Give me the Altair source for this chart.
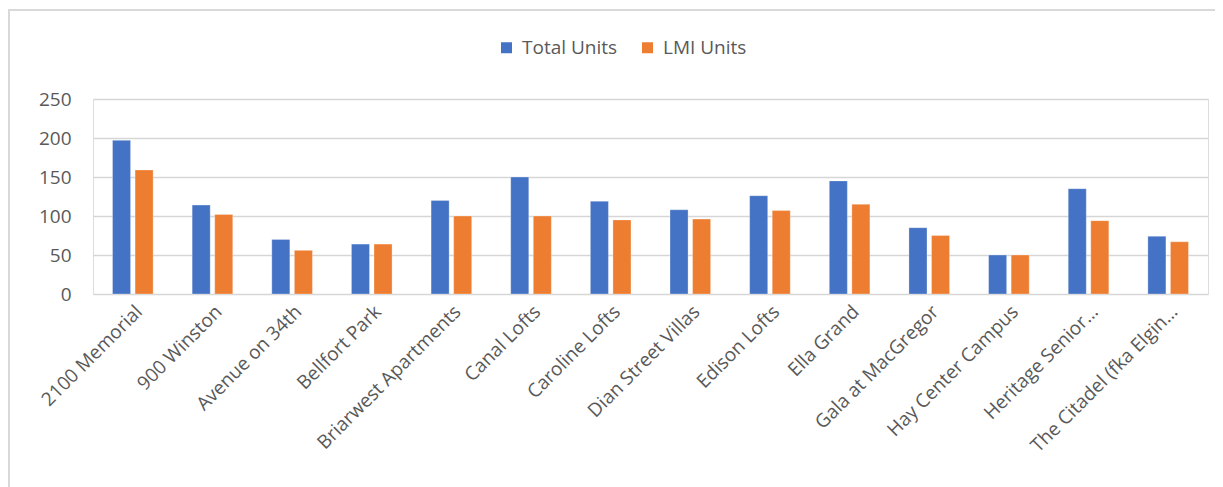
import altair as alt
import pandas as pd

categories = ["2100 Memorial", "900 Winston", "Avenue on 34th", "Bellfort Park",
              "Briarwest Apartments", "Canal Lofts", "Caroline Lofts", "Dian Street Villas",
              "Edison Lofts", "Ella Grand", "Gala at MacGregor", "Hay Center Campus",
              "Heritage Senior…", "The Citadel (fka Elgin…"]
total_units = [197, 114, 70, 64, 120, 150, 119, 108, 126, 145, 85, 50, 135, 74]
lmi_units = [159, 102, 56, 64, 100, 100, 95, 96, 107, 115, 75, 50, 94, 67]
series = ["Total Units", "LMI Units"]
colors = ["#4472C4", "#ED7D31"]
y_ticks = [0, 50, 100, 150, 200, 250]

rows = []
for c, t, l in zip(categories, total_units, lmi_units):
    rows.append({"Project": c, "Series": series[0], "Units": t})
    rows.append({"Project": c, "Series": series[1], "Units": l})
df = pd.DataFrame(rows)

FONT = "Open Sans"
LABEL = "#595959"

bars = alt.Chart(df).mark_bar(stroke="#FFFFFF", strokeOpacity=0.5, strokeWidth=0.6).encode(
    x=alt.X("Project:N", sort=categories,
            scale=alt.Scale(paddingInner=0.49, paddingOuter=0.245),
            axis=alt.Axis(title=None, labelAngle=-45, domain=False, ticks=False,
                          labelFont=FONT, labelFontSize=19, labelColor=LABEL,
                          labelPadding=8, labelLimit=300)),
    xOffset=alt.XOffset("Series:N", sort=series,
                        scale=alt.Scale(paddingInner=0.2, paddingOuter=0)),
    y=alt.Y("Units:Q", scale=alt.Scale(domain=[0, 250]),
            axis=alt.Axis(title=None, values=y_ticks, domain=False, ticks=False,
                          gridColor="#D6D6D6", gridWidth=1.5,
                          labelFont=FONT, labelFontSize=19, labelColor=LABEL,
                          labelPadding=22)),
    color=alt.Color("Series:N", sort=series,
                    scale=alt.Scale(domain=series, range=colors),
                    legend=alt.Legend(title=None, orient="none", direction="horizontal",
                                      legendX=404, legendY=-61,
                                      symbolType="square", symbolSize=121,
                                      symbolStrokeWidth=0,
                                      labelFont=FONT, labelFontSize=19,
                                      labelColor=LABEL, labelOffset=6,
                                      columnPadding=20)),
)

frame = alt.Chart(df).mark_rect(fill=None, stroke="#D9D9D9", strokeWidth=1.5).encode(
    x=alt.value(-84), x2=alt.value(1400), y=alt.value(-89), y2=alt.value(700)
)

chart = alt.layer(frame, bars).properties(
    width=1115, height=195,
    autosize=alt.AutoSizeParams(type="none"),
    padding={"left": 85, "top": 91, "right": 7, "bottom": 200},
).configure_view(stroke=None).configure(background="white")

chart.save("out.html", embed_options={"renderer": "svg", "actions": False})
